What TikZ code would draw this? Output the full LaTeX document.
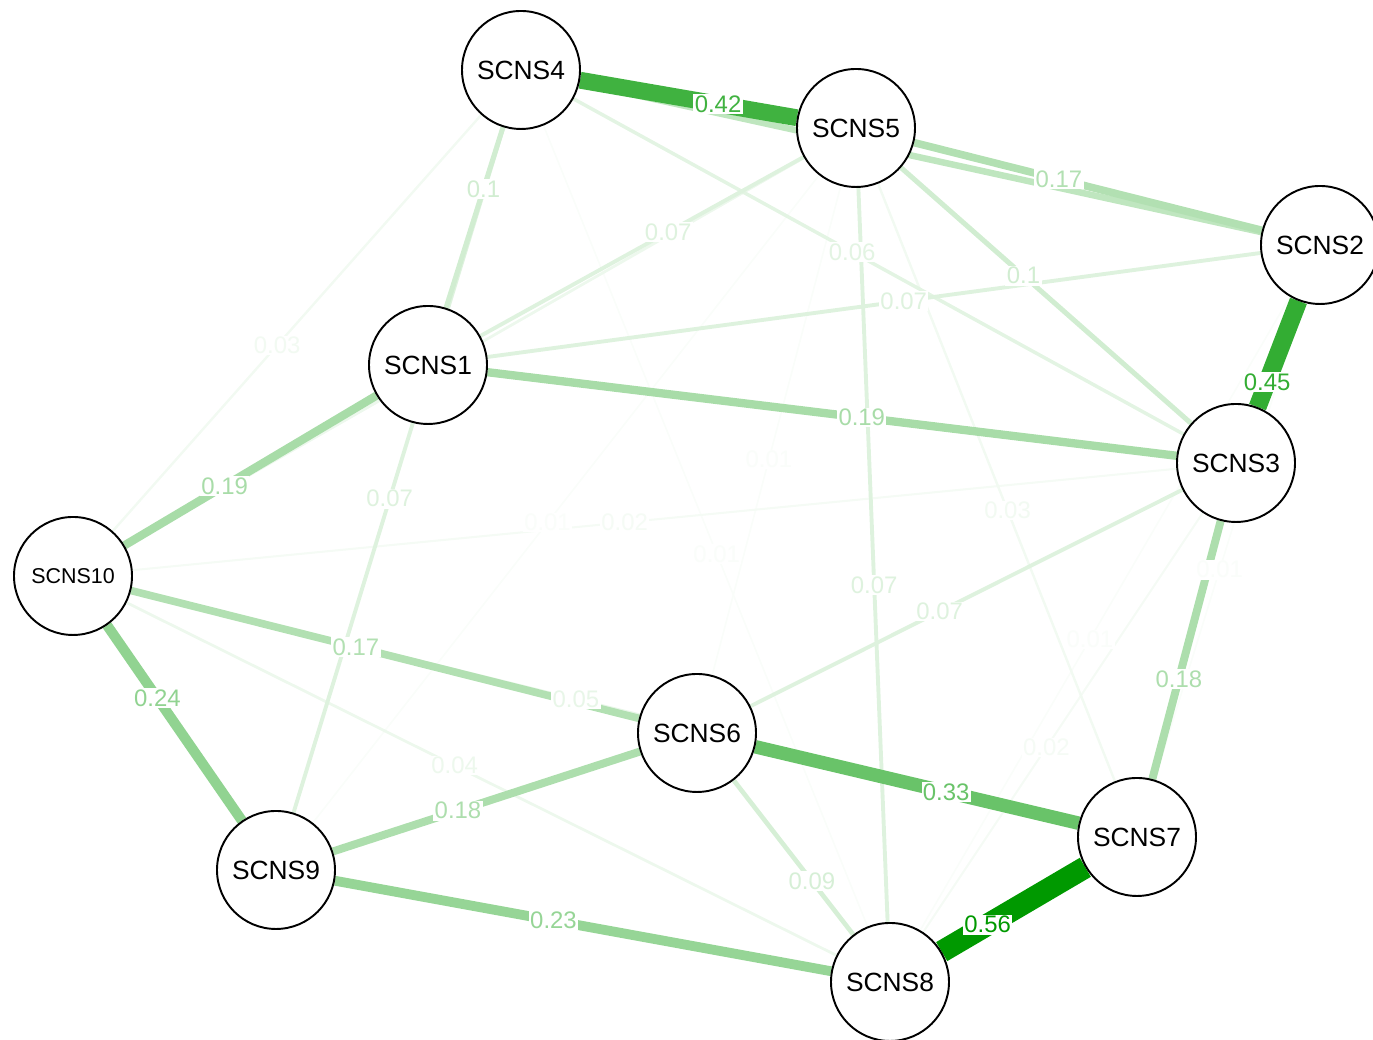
\documentclass[tikz,border=0pt]{standalone}
\usepackage{fontspec}
\setmainfont{Liberation Sans}
\usetikzlibrary{calc}
\definecolor{qgreen}{RGB}{0,153,0}
\pgfdeclarelayer{edges}
\pgfdeclarelayer{elabels}
\pgfsetlayers{edges,elabels,main}
% line only (strength sets colour and width)
\newcommand{\netline}[3]{%
  \pgfmathsetmacro{\ecol}{round(100*#3/0.56)}%
  \pgfmathsetmacro{\ewid}{(1.3+37*#3)*0.2845}%
  \begin{pgfonlayer}{edges}
    \draw[draw=qgreen!\ecol!white, line width=\ewid pt] (#1) -- (#2);
  \end{pgfonlayer}%
}
% line plus weight label, shifted towards #2
\newcommand{\netedge}[3]{%
  \netline{#1}{#2}{#3}%
  \begin{pgfonlayer}{elabels}
    \node[elabel, text=qgreen!\ecol!white] (l#1#2) at ($(#1)!0.5!(#2)!0.3cm!(#2)$) {#3};
  \end{pgfonlayer}%
}
\begin{document}
\begin{tikzpicture}[
    scns/.style={draw, circle, fill=white, line width=0.55pt, minimum size=1.18cm,
      inner sep=0pt, font=\fontsize{7.5}{8}\selectfont},
    elabel/.style={fill=white, inner sep=0.4pt, font=\fontsize{6.8}{7}\selectfont}
  ]
  \useasboundingbox (0,0) rectangle (13.73,10.40);
  \node[scns] (s1)  at (4.28,6.75)  {SCNS1};
  \node[scns] (s2)  at (13.20,7.95) {SCNS2};
  \node[scns] (s3)  at (12.36,5.77) {SCNS3};
  \node[scns] (s4)  at (5.21,9.70)  {SCNS4};
  \node[scns] (s5)  at (8.56,9.12)  {SCNS5};
  \node[scns] (s6)  at (6.97,3.07)  {SCNS6};
  \node[scns] (s7)  at (11.37,2.03) {SCNS7};
  \node[scns] (s8)  at (8.90,0.58)  {SCNS8};
  \node[scns] (s9)  at (2.76,1.70)  {SCNS9};
  \node[scns, font=\fontsize{6.1}{7}\selectfont] (s10) at (0.73,4.64) {SCNS10};
  %
  \netedge{s4}{s8}{0.01}
  \netedge{s5}{s6}{0.01}
  \netedge{s5}{s9}{0.01}
  \netedge{s2}{s8}{0.01}
  \netedge{s2}{s7}{0.01}
  \netedge{s3}{s10}{0.02}
  \netedge{s3}{s8}{0.02}
  \netedge{s4}{s10}{0.03}
  \netedge{s5}{s7}{0.03}
  \netedge{s8}{s10}{0.04}
  \netline{s5}{s10}{0.04}
  \netedge{s7}{s10}{0.05}
  \netedge{s3}{s4}{0.06}
  \netedge{s1}{s5}{0.07}
  \netedge{s1}{s2}{0.07}
  \netedge{s4}{s9}{0.07}
  \netedge{s5}{s8}{0.07}
  \netedge{s3}{s6}{0.07}
  \netedge{s6}{s8}{0.09}
  \netedge{s1}{s4}{0.1}
  \netedge{s3}{s5}{0.1}
  \netline{s2}{s4}{0.14}
  \netedge{s2}{s5}{0.17}
  \netedge{s6}{s10}{0.17}
  \netedge{s3}{s7}{0.18}
  \netedge{s6}{s9}{0.18}
  \netedge{s1}{s3}{0.19}
  \netedge{s1}{s10}{0.19}
  \netedge{s8}{s9}{0.23}
  \netedge{s9}{s10}{0.24}
  \netedge{s6}{s7}{0.33}
  \netedge{s4}{s5}{0.42}
  \netedge{s2}{s3}{0.45}
  \netedge{s7}{s8}{0.56}
\end{tikzpicture}
\end{document}
